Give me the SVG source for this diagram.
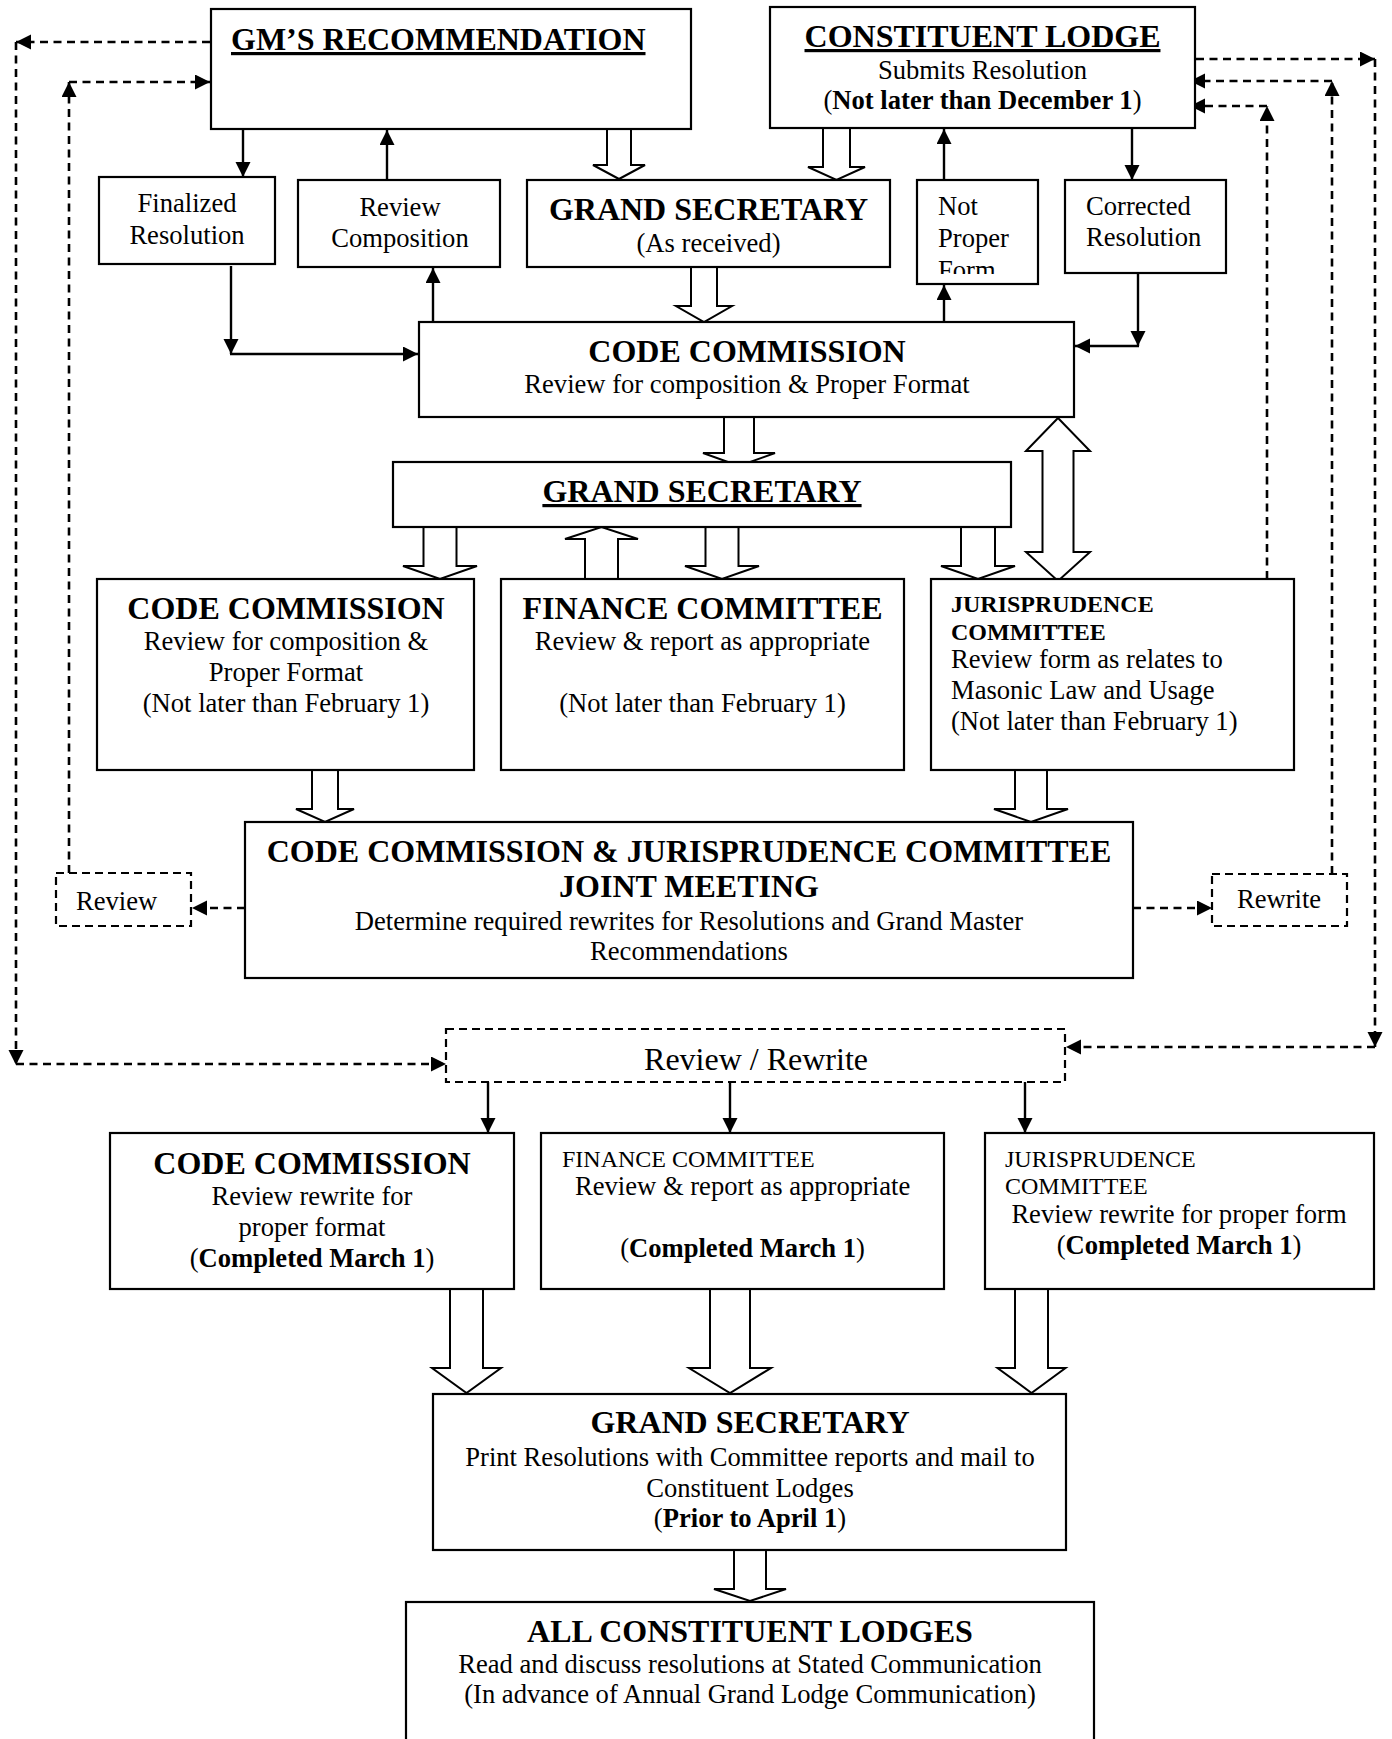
<svg xmlns="http://www.w3.org/2000/svg" width="1392" height="1739" viewBox="0 0 1392 1739">
<style>
.box{fill:#fff;stroke:#000;stroke-width:2.2}
.dbox{fill:#fff;stroke:#000;stroke-width:2.2;stroke-dasharray:8 5}
.ln{stroke:#000;stroke-width:2.4;fill:none}
.dl{stroke:#000;stroke-width:2.6;fill:none;stroke-dasharray:8 5.5}
.hol{fill:#fff;stroke:#000;stroke-width:2;stroke-linejoin:miter}
text{font-family:"Liberation Serif","Times New Roman",serif;fill:#000}
.t{font-size:32px;font-weight:bold}
.b{font-size:26.6px}
.s{font-size:24px}
.sb{font-size:24px;font-weight:bold}
.c{text-anchor:middle}
.u{text-decoration:underline}
.bw{font-weight:bold}
</style>
<defs>
<marker id="ah" markerUnits="userSpaceOnUse" markerWidth="16" markerHeight="16" refX="15" refY="7.5" orient="auto">
<path d="M0,0 L15,7.5 L0,15 Z" fill="#000"/>
</marker>
<clipPath id="npclip"><rect x="917" y="180" width="121" height="94"/></clipPath>
</defs>

<g id="connectors">
<!-- solid arrows -->
<line class="ln" x1="243" y1="129" x2="243" y2="177" marker-end="url(#ah)"/>
<line class="ln" x1="387" y1="180" x2="387" y2="130" marker-end="url(#ah)"/>
<line class="ln" x1="231" y1="266" x2="231" y2="354" marker-end="url(#ah)"/>
<line class="ln" x1="230" y1="354" x2="418" y2="354" marker-end="url(#ah)"/>
<line class="ln" x1="433" y1="322" x2="433" y2="268" marker-end="url(#ah)"/>
<line class="ln" x1="944" y1="180" x2="944" y2="129" marker-end="url(#ah)"/>
<line class="ln" x1="944" y1="322" x2="944" y2="285" marker-end="url(#ah)"/>
<line class="ln" x1="1132" y1="128" x2="1132" y2="180" marker-end="url(#ah)"/>
<line class="ln" x1="1138" y1="273" x2="1138" y2="346" marker-end="url(#ah)"/>
<line class="ln" x1="1139" y1="346" x2="1075" y2="346" marker-end="url(#ah)"/>
<line class="ln" x1="488" y1="1082" x2="488" y2="1133" marker-end="url(#ah)"/>
<line class="ln" x1="730" y1="1082" x2="730" y2="1133" marker-end="url(#ah)"/>
<line class="ln" x1="1025" y1="1082" x2="1025" y2="1133" marker-end="url(#ah)"/>

<!-- dashed connectors -->
<line class="dl" x1="210" y1="42" x2="16" y2="42" marker-end="url(#ah)"/>
<line class="dl" x1="16" y1="42" x2="16" y2="1065" marker-end="url(#ah)"/>
<line class="dl" x1="16" y1="1064" x2="446" y2="1064" marker-end="url(#ah)"/>
<line class="dl" x1="69" y1="873" x2="69" y2="82" marker-end="url(#ah)"/>
<line class="dl" x1="69" y1="82" x2="210" y2="82" marker-end="url(#ah)"/>
<line class="dl" x1="1196" y1="59" x2="1375" y2="59" marker-end="url(#ah)"/>
<line class="dl" x1="1375" y1="59" x2="1375" y2="1047" marker-end="url(#ah)"/>
<line class="dl" x1="1375" y1="1047" x2="1066" y2="1047" marker-end="url(#ah)"/>
<line class="dl" x1="1332" y1="874" x2="1332" y2="81" marker-end="url(#ah)"/>
<line class="dl" x1="1332" y1="81" x2="1190" y2="81" marker-end="url(#ah)"/>
<line class="dl" x1="1267" y1="579" x2="1267" y2="106" marker-end="url(#ah)"/>
<line class="dl" x1="1267" y1="106" x2="1190" y2="106" marker-end="url(#ah)"/>
<line class="dl" x1="245" y1="908" x2="192" y2="908" marker-end="url(#ah)"/>
<line class="dl" x1="1133" y1="908" x2="1212" y2="908" marker-end="url(#ah)"/>

<!-- hollow block arrows -->
<polygon class="hol" points="607,129 631,129 631,165 645,165 619,179 593,165 607,165"/>
<polygon class="hol" points="823,128 850,128 850,167 865,167 836.5,180 808,167 823,167"/>
<polygon class="hol" points="691,267 717,267 717,306 732,306 704,322 676,306 691,306"/>
<polygon class="hol" points="724,417 754,417 754,453 775,453 739,466 703,453 724,453"/>
<polygon class="hol" points="423.5,527 456.5,527 456.5,566 477,566 440,579 403,566 423.5,566"/>
<polygon class="hol" points="585,579 618,579 618,539 638,539 601.5,527 565,539 585,539"/>
<polygon class="hol" points="705.5,527 738.5,527 738.5,566 759,566 722,579 685,566 705.5,566"/>
<polygon class="hol" points="961,527 995,527 995,566 1015,566 978,579 941,566 961,566"/>
<polygon class="hol" points="1058,418 1090,451 1073.5,451 1073.5,552 1090,552 1058,581 1026,552 1042.5,552 1042.5,451 1026,451"/>
<polygon class="hol" points="312,770 338,770 338,809 354,809 325,822 296,809 312,809"/>
<polygon class="hol" points="1015,770 1047,770 1047,809 1068,809 1031,822 994,809 1015,809"/>
<polygon class="hol" points="450,1289 483,1289 483,1368 501,1368 466.5,1393 432,1368 450,1368"/>
<polygon class="hol" points="710,1289 750,1289 750,1368 771,1368 730,1393 689,1368 710,1368"/>
<polygon class="hol" points="1015,1289 1048,1289 1048,1368 1065.5,1368 1031.5,1393 997.5,1368 1015,1368"/>
<polygon class="hol" points="734,1550 766,1550 766,1589 786,1589 750,1601 714,1589 734,1589"/>
</g>

<g id="gm-recommendation">
<rect class="box" x="211" y="9" width="480" height="120"/>
<text class="t u" x="231" y="50">GM’S RECOMMENDATION</text>
</g>

<g id="constituent-lodge">
<rect class="box" x="770" y="7" width="425" height="121"/>
<text class="t u c" x="982.5" y="47">CONSTITUENT LODGE</text>
<text class="b c" x="982.5" y="79">Submits Resolution</text>
<text class="b c" x="982.5" y="109">(<tspan class="bw">Not later than December 1</tspan>)</text>
</g>

<g id="finalized-resolution">
<rect class="box" x="99" y="177" width="176" height="87"/>
<text class="b c" x="187" y="212">Finalized</text>
<text class="b c" x="187" y="244">Resolution</text>
</g>

<g id="review-composition">
<rect class="box" x="298" y="180" width="202" height="87"/>
<text class="b c" x="400" y="216">Review</text>
<text class="b c" x="400" y="247">Composition</text>
</g>

<g id="grand-secretary-received">
<rect class="box" x="527" y="180" width="363" height="87"/>
<text class="t c" x="708.5" y="220">GRAND SECRETARY</text>
<text class="b c" x="708.5" y="252">(As received)</text>
</g>

<g id="not-proper-form">
<rect class="box" x="917" y="180" width="121" height="104"/>
<g clip-path="url(#npclip)">
<text class="b" x="938" y="215">Not</text>
<text class="b" x="938" y="247">Proper</text>
<text class="b" x="938" y="279">Form</text>
</g>
</g>

<g id="corrected-resolution">
<rect class="box" x="1065" y="180" width="161" height="93"/>
<text class="b" x="1086" y="215">Corrected</text>
<text class="b" x="1086" y="246">Resolution</text>
</g>

<g id="code-commission-1">
<rect class="box" x="419" y="322" width="655" height="95"/>
<text class="t c" x="747" y="362">CODE COMMISSION</text>
<text class="b c" x="747" y="393">Review for composition &amp; Proper Format</text>
</g>

<g id="grand-secretary-2">
<rect class="box" x="393" y="462" width="618" height="65"/>
<text class="t u c" x="702" y="502">GRAND SECRETARY</text>
</g>

<g id="code-commission-2">
<rect class="box" x="97" y="579" width="377" height="191"/>
<text class="t c" x="286" y="619">CODE COMMISSION</text>
<text class="b c" x="286" y="650">Review for composition &amp;</text>
<text class="b c" x="286" y="681">Proper Format</text>
<text class="b c" x="286" y="712">(Not later than February 1)</text>
</g>

<g id="finance-committee-1">
<rect class="box" x="501" y="579" width="403" height="191"/>
<text class="t c" x="702.5" y="619">FINANCE COMMITTEE</text>
<text class="b c" x="702.5" y="650">Review &amp; report as appropriate</text>
<text class="b c" x="702.5" y="712">(Not later than February 1)</text>
</g>

<g id="jurisprudence-committee-1">
<rect class="box" x="931" y="579" width="363" height="191"/>
<text class="sb" x="951" y="612">JURISPRUDENCE</text>
<text class="sb" x="951" y="640">COMMITTEE</text>
<text class="b" x="951" y="668">Review form as relates to</text>
<text class="b" x="951" y="699">Masonic Law and Usage</text>
<text class="b" x="951" y="730">(Not later than February 1)</text>
</g>

<g id="joint-meeting">
<rect class="box" x="245" y="822" width="888" height="156"/>
<text class="t c" x="689" y="862">CODE COMMISSION &amp; JURISPRUDENCE COMMITTEE</text>
<text class="t c" x="689" y="897">JOINT MEETING</text>
<text class="b c" x="689" y="930">Determine required rewrites for Resolutions and Grand Master</text>
<text class="b c" x="689" y="960">Recommendations</text>
</g>

<g id="review">
<rect class="dbox" x="56" y="873" width="135" height="53"/>
<text class="b" x="76" y="910">Review</text>
</g>

<g id="rewrite">
<rect class="dbox" x="1212" y="874" width="135" height="52"/>
<text class="b c" x="1279" y="908">Rewrite</text>
</g>

<g id="review-rewrite">
<rect class="dbox" x="446" y="1029" width="619" height="53"/>
<text class="c" x="756" y="1070" style="font-size:32px">Review / Rewrite</text>
</g>

<g id="code-commission-3">
<rect class="box" x="110" y="1133" width="404" height="156"/>
<text class="t c" x="312" y="1174">CODE COMMISSION</text>
<text class="b c" x="312" y="1205">Review rewrite for</text>
<text class="b c" x="312" y="1236">proper format</text>
<text class="b c" x="312" y="1267">(<tspan class="bw">Completed March 1</tspan>)</text>
</g>

<g id="finance-committee-2">
<rect class="box" x="541" y="1133" width="403" height="156"/>
<text class="s" x="562" y="1167">FINANCE COMMITTEE</text>
<text class="b" x="575" y="1195">Review &amp; report as appropriate</text>
<text class="b c" x="742.5" y="1257">(<tspan class="bw">Completed March 1</tspan>)</text>
</g>

<g id="jurisprudence-committee-2">
<rect class="box" x="985" y="1133" width="389" height="156"/>
<text class="s" x="1005" y="1167">JURISPRUDENCE</text>
<text class="s" x="1005" y="1194">COMMITTEE</text>
<text class="b c" x="1179" y="1223">Review rewrite for proper form</text>
<text class="b c" x="1179" y="1254">(<tspan class="bw">Completed March 1</tspan>)</text>
</g>

<g id="grand-secretary-3">
<rect class="box" x="433" y="1394" width="633" height="156"/>
<text class="t c" x="750" y="1433">GRAND SECRETARY</text>
<text class="b c" x="750" y="1466">Print Resolutions with Committee reports and mail to</text>
<text class="b c" x="750" y="1497">Constituent Lodges</text>
<text class="b c" x="750" y="1527">(<tspan class="bw">Prior to April 1</tspan>)</text>
</g>

<g id="all-constituent-lodges">
<rect class="box" x="406" y="1602" width="688" height="150"/>
<text class="t c" x="750" y="1642">ALL CONSTITUENT LODGES</text>
<text class="b c" x="750" y="1673">Read and discuss resolutions at Stated Communication</text>
<text class="b c" x="750" y="1703">(In advance of Annual Grand Lodge Communication)</text>
</g>
</svg>
